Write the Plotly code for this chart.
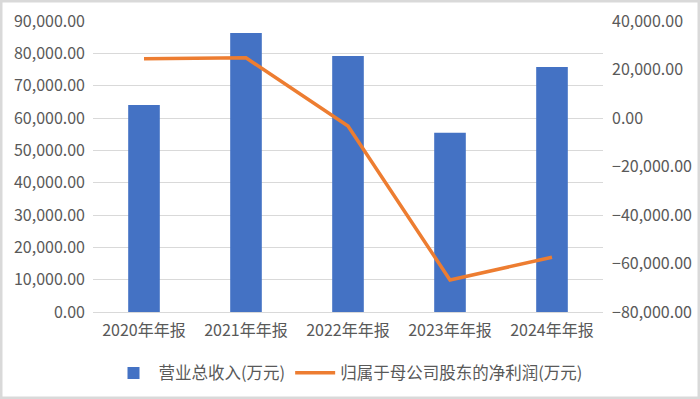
import plotly.graph_objects as go

categories = ["2020年年报", "2021年年报", "2022年年报", "2023年年报", "2024年年报"]
revenue = [64000, 86300, 79200, 55400, 75800]
net_profit = [24400, 24800, -3300, -66800, -57400]
left_ticks = list(range(0, 90001, 10000))
right_ticks = list(range(-80000, 40001, 20000))

FONT = "Noto Sans CJK SC, Noto Sans, sans-serif"
GRAY = "#595959"

fig = go.Figure()
fig.add_trace(go.Bar(x=categories, y=revenue, name="营业总收入(万元)",
                     marker=dict(color="#4472C4", line=dict(width=0)), yaxis="y"))
fig.add_trace(go.Scatter(x=categories, y=net_profit, name="归属于母公司股东的净利润(万元)",
                         mode="lines", line=dict(color="#ED7D31", width=3.5), yaxis="y2"))

W, H = 700, 399
ml, mr, mt, mb = 93, 97, 21, 87
pw, ph = W - ml - mr, H - mt - mb

fig.update_layout(
    width=W, height=H,
    margin=dict(l=ml, r=mr, t=mt, b=mb, autoexpand=False),
    paper_bgcolor="white", plot_bgcolor="white",
    font=dict(family=FONT, size=16, color=GRAY),
    bargap=0.69,
    showlegend=True,
    legend=dict(orientation="h", x=0.5, xanchor="center", y=-0.15, yanchor="top",
                font=dict(size=16.5, color=GRAY), itemwidth=40, traceorder="normal"),
    xaxis=dict(showgrid=False, showline=True, linecolor="#d9d9d9", linewidth=1,
               ticks="", tickfont=dict(size=16, color=GRAY), automargin=False,
               ticklabelstandoff=4),
    yaxis=dict(range=[0, 90000], tickvals=left_ticks, tickformat=",.2f",
               showgrid=True, gridcolor="#d9d9d9", gridwidth=1, zeroline=False,
               showline=False, ticks="", tickfont=dict(size=16, color=GRAY), automargin=False,
               ticklabelstandoff=7),
    yaxis2=dict(range=[-80000, 40000], tickvals=right_ticks, tickformat=",.2f",
                overlaying="y", side="right", showgrid=False, zeroline=False,
                showline=False, ticks="", tickfont=dict(size=16, color=GRAY), automargin=False,
                ticklabelstandoff=8),
    shapes=[dict(type="rect", xref="paper", yref="paper",
                 x0=-(ml - 1) / pw, x1=1 + (mr - 1) / pw,
                 y0=-(mb - 1) / ph, y1=1 + (mt - 1) / ph,
                 line=dict(color="#d9d9d9", width=3), fillcolor="rgba(0,0,0,0)", layer="above")],
)

fig.write_html("out.html", config={"displayModeBar": False},
               post_script="document.body.style.margin='0';document.body.style.overflow='hidden';")
